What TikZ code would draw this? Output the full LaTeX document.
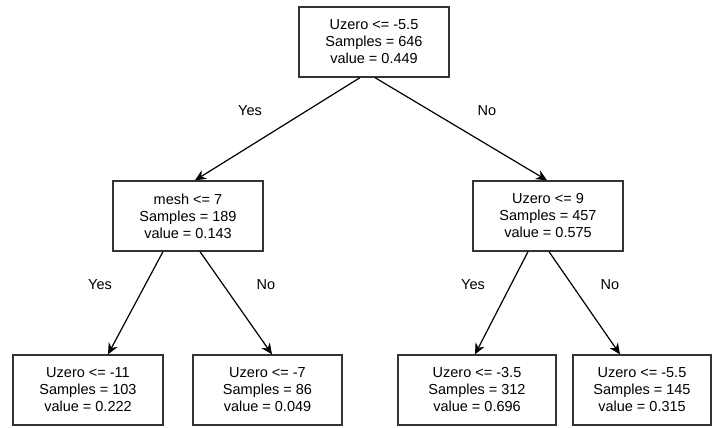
\documentclass[tikz,border=0pt]{standalone}
\usepackage{fontspec}
\setmainfont{Liberation Sans}
\usetikzlibrary{arrows.meta}
\begin{document}
\begin{tikzpicture}[x=1pt,y=-1pt,
  treebox/.style={draw=black!80,line width=1.3pt,fill=white,minimum height=70pt,inner sep=0pt,
    align=center,font=\fontsize{14.5}{17}\selectfont},
  edge/.style={line width=1.2pt,-{Stealth[length=11pt,width=10pt]}},
  lab/.style={font=\fontsize{14.5}{16}\selectfont}]
\useasboundingbox (0,0) rectangle (712,428);
\node[treebox,minimum width=150pt] (root) at (374,42) {Uzero <= -5.5\\Samples = 646\\value = 0.449};
\node[treebox,minimum width=150pt] (ml) at (188,216) {mesh <= 7\\Samples = 189\\value = 0.143};
\node[treebox,minimum width=150pt] (mr) at (548,216) {Uzero <= 9\\Samples = 457\\value = 0.575};
\node[treebox,minimum width=150pt] (b1) at (88,390) {Uzero <= -11\\Samples = 103\\value = 0.222};
\node[treebox,minimum width=149pt] (b2) at (267.5,390) {Uzero <= -7\\Samples = 86\\value = 0.049};
\node[treebox,minimum width=158pt] (b3) at (477,390) {Uzero <= -3.5\\Samples = 312\\value = 0.696};
\node[treebox,minimum width=138pt] (b4) at (642,390) {Uzero <= -5.5\\Samples = 145\\value = 0.315};
\draw[edge] ([xshift=-14pt]root.south) -- ([xshift=7pt]ml.north);
\draw[edge] ([xshift=1pt]root.south) -- ([xshift=-1pt]mr.north);
\draw[edge] ([xshift=-25pt]ml.south) -- ([xshift=20pt]b1.north);
\draw[edge] ([xshift=12pt]ml.south) -- ([xshift=4.5pt]b2.north);
\draw[edge] ([xshift=-20pt]mr.south) -- ([xshift=-2pt]b3.north);
\draw[edge] ([xshift=1pt]mr.south) -- ([xshift=-22pt]b4.north);
\node[lab] (y1) at (250,111) {Yes};
\node[lab] (n1) at (487,111) {No};
\node[lab] (y2) at (100,285) {Yes};
\node[lab] (n2) at (266,285) {No};
\node[lab] (y3) at (473,285) {Yes};
\node[lab] (n3) at (610,285) {No};
\end{tikzpicture}
\end{document}
